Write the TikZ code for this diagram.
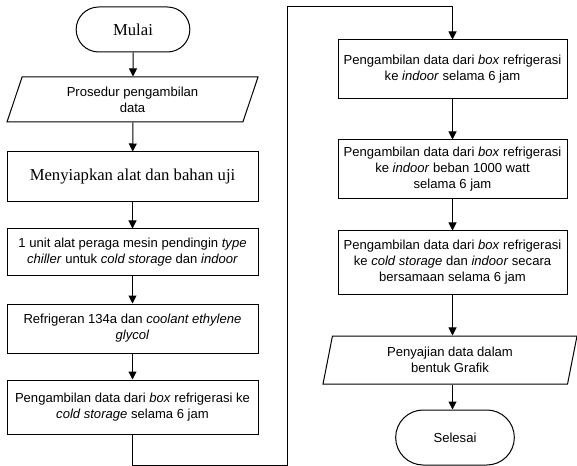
\documentclass[tikz,border=0pt]{standalone}
\usepackage{fontspec}
\setmainfont{Liberation Sans}
\newfontfamily\serifTNR{Liberation Serif}
\usepackage{tikz}
\usetikzlibrary{shapes.geometric, shapes.misc, arrows.meta}

\begin{document}
\begin{tikzpicture}[
    x=0.75pt, y=-0.75pt,
    base/.style={draw=black, line width=0.75pt, align=center, inner sep=2pt,
                 font=\fontsize{9.8}{12}\selectfont},
    terminal/.style={base, rounded rectangle},
    process/.style={base, rectangle},
    io/.style={base, trapezium, trapezium stretches body},
    flow edge/.style={draw=black, line width=0.75pt, -{Triangle[length=6pt,width=6pt]}},
    plain edge/.style={draw=black, line width=0.75pt}
]
\useasboundingbox (0,0) rectangle (577,466);

% --- Left column ---
\node[terminal, minimum width=89.25pt, minimum height=33.75pt,
      font=\serifTNR\fontsize{12.5}{15}\selectfont] (start) at (133,29.5) {Mulai};
\node[io, trapezium left angle=64, trapezium right angle=116,
      minimum width=188.25pt, minimum height=33.75pt] (proc) at (132.5,99.5)
      {Prosedur pengambilan\\data};
\node[process, minimum width=188.25pt, minimum height=37.5pt,
      font=\serifTNR\fontsize{12.5}{15}\selectfont] (prep) at (132.5,177)
      {Menyiapkan alat dan bahan uji};
\node[process, minimum width=188.25pt, minimum height=34.5pt] (unit) at (132.5,252)
      {1 unit alat peraga mesin pendingin \textit{type}\\
       \textit{chiller} untuk \textit{cold storage} dan \textit{indoor}};
\node[process, minimum width=188.25pt, minimum height=36.75pt] (refr) at (132.5,328.5)
      {Refrigeran 134a dan \textit{coolant ethylene}\\ \textit{glycol}};
\node[process, minimum width=188.25pt, minimum height=40.5pt] (cold) at (132.5,407)
      {Pengambilan data dari \textit{box} refrigerasi ke\\
       \textit{cold storage} selama 6 jam};

% --- Right column ---
\node[process, minimum width=171.75pt, minimum height=44.25pt] (indoor) at (452.5,69.5)
      {Pengambilan data dari \textit{box} refrigerasi\\
       ke \textit{indoor} selama 6 jam};
\node[process, minimum width=171.75pt, minimum height=44.25pt] (load) at (452.5,169.5)
      {Pengambilan data dari \textit{box} refrigerasi\\
       ke \textit{indoor} beban 1000 watt\\ selama 6 jam};
\node[process, minimum width=171.75pt, minimum height=47.25pt] (both) at (452.5,262.5)
      {Pengambilan data dari \textit{box} refrigerasi\\
       ke \textit{cold storage} dan \textit{indoor} secara\\
       bersamaan selama 6 jam};
\node[io, trapezium left angle=73, trapezium right angle=107,
      minimum width=190.5pt, minimum height=36pt] (graph) at (450,360)
      {Penyajian data dalam\\bentuk Grafik};
\node[terminal, minimum width=93pt, minimum height=41.25pt] (stop) at (455,437.5) {Selesai};

% --- Connectors ---
\coordinate (turn) at (287,7);
\draw[flow edge] (start) -- (start |- proc.north);
\draw[flow edge] (start |- proc.south) -- (prep);
\draw[flow edge] (prep) -- (unit);
\draw[flow edge] (unit) -- (refr);
\draw[flow edge] (refr) -- (cold);
\draw[flow edge] (cold.south) -- ++(0,31) -| (turn) -| (indoor.north);
\draw[flow edge] (indoor) -- (load);
\draw[flow edge] (load) -- (both);
\draw[flow edge] (both.south) -- (both.south |- graph.north);
\draw[flow edge] (both.south |- graph.south) -- (both.south |- stop.north);

\end{tikzpicture}
\end{document}
